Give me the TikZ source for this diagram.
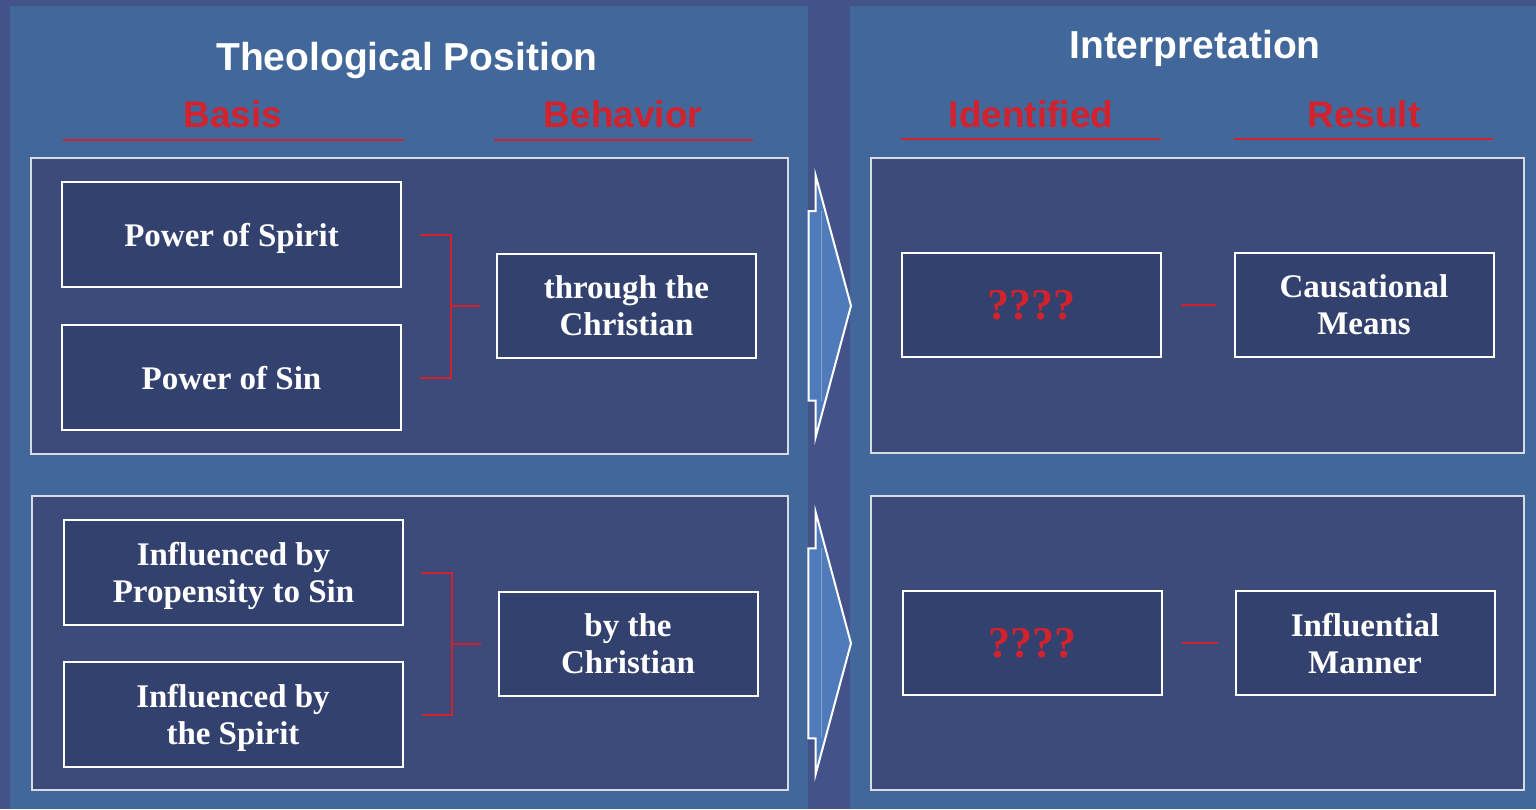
\documentclass[tikz,border=0pt]{standalone}
\usepackage{fontspec}
\setmainfont{Liberation Serif}
\newfontfamily\headfont{Liberation Sans}
\usetikzlibrary{calc}
\definecolor{bg-dark}{HTML}{44528A}
\definecolor{bg-panel}{HTML}{42679A}
\definecolor{grp-fill}{HTML}{3C4B7A}
\definecolor{box-fill}{HTML}{33416E}
\definecolor{arr-fill}{HTML}{4F7BBB}
\definecolor{my-red}{HTML}{D2222D}
\tikzset{
  box/.style={draw=white, line width=2pt, fill=box-fill, text=white,
    minimum width=339pt, minimum height=105pt, align=center, inner sep=0pt,
    text depth=-3pt, font=\bfseries\fontsize{33}{37}\selectfont},
  smallbox/.style={box, minimum width=259pt, minimum height=104pt},
  qbox/.style={smallbox, text=my-red, font=\bfseries\fontsize{44}{48}\selectfont},
  groupbox/.style={draw=white!80!grp-fill, line width=1.3pt, fill=grp-fill},
  title/.style={text=white, anchor=base, inner sep=0pt,
    font=\headfont\bfseries\fontsize{39}{41}\selectfont},
  header/.style={text=my-red, anchor=base, inner sep=0pt,
    font=\headfont\bfseries\fontsize{37}{40}\selectfont},
  redline/.style={draw=my-red, line width=2pt},
  bigarrow/.style={draw=white, line width=2pt, fill=arr-fill, line join=miter}
}
\begin{document}
\begin{tikzpicture}[x=1pt, y=-1pt]
  \useasboundingbox (0,0) rectangle (1536,809);
  % background and panels
  \fill[bg-dark] (0,0) rectangle (1536,809);
  \fill[bg-panel] (10,6) rectangle (808,809);
  \fill[bg-panel] (850,6) rectangle (1536,809);
  % titles and headers
  \node[title] (theo) at (407,70) {Theological Position};
  \node[title] (interp) at (1195,58) {Interpretation};
  \node[header] (basis) at (233,127) {Basis};
  \node[header] (behav) at (623,127) {Behavior};
  \node[header] (ident) at (1031,127) {Identified};
  \node[header] (result) at (1364,127) {Result};
  \draw[redline] (63,140) -- (404,140);
  \draw[redline] (494,140) -- (753,140);
  \draw[redline] (901,139) -- (1161,139);
  \draw[redline] (1234,139) -- (1493,139);
  % group boxes
  \draw[groupbox] (31,158) rectangle (788,454);
  \draw[groupbox] (32,496) rectangle (788,790);
  \draw[groupbox] (871,158) rectangle (1524,453);
  \draw[groupbox] (871,496) rectangle (1524,790);
  % arrows between the panels
  \draw[bigarrow] (815.7,175.7) -- (815.7,211) -- (808.7,211) -- (808.7,400.7)
    -- (815.7,400.7) -- (815.7,437) -- (851,305.7) -- cycle;
  \draw[white, opacity=0.3, line width=0.8pt] (821,211) -- (821,400.7);
  \draw[bigarrow] (815.7,512.3) -- (815.7,548.3) -- (808.3,548.3) -- (808.3,738.3)
    -- (815.7,738.3) -- (815.7,774) -- (851,643.3) -- cycle;
  \draw[white, opacity=0.3, line width=0.8pt] (821,548.3) -- (821,738.3);
  % upper row
  \node[box] (spirit) at (231.5,234.5) {Power of Spirit};
  \node[box] (sin) at (231.5,377.5) {Power of Sin};
  \node[smallbox] (through) at (626.5,306) {through the\\Christian};
  \node[qbox] (q1) at (1031,305) {????};
  \node[smallbox] (causal) at (1364,305) {Causational\\Means};
  % lower row
  \node[box] (propens) at (233.5,572.5) {Influenced by\\Propensity to Sin};
  \node[box] (inflspirit) at (233,714.5) {Influenced by\\the Spirit};
  \node[smallbox] (bychrist) at (628,644) {by the\\Christian};
  \node[qbox] (q2) at (1032.5,643) {????};
  \node[smallbox] (manner) at (1365,643) {Influential\\Manner};
  % brackets
  \coordinate (j1) at (451,306);
  \draw[redline] ($(spirit.east)+(18,0)$) -| (j1) |- ($(sin.east)+(18,0)$);
  \draw[redline] (j1) -- ($(through.west)+(-16,0)$);
  \coordinate (j2) at (452,644);
  \draw[redline] ($(propens.east)+(17,0)$) -| (j2) |- ($(inflspirit.east)+(18,0)$);
  \draw[redline] (j2) -- ($(bychrist.west)+(-17,0)$);
  % dashes
  \draw[redline] ($(q1.east)+(19,0)$) -- ($(causal.west)+(-18,0)$);
  \draw[redline] ($(q2.east)+(19,0)$) -- ($(manner.west)+(-17,0)$);
\end{tikzpicture}
\end{document}
